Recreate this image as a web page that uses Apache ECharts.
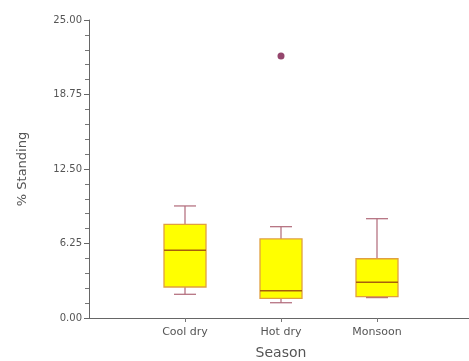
<!DOCTYPE html>
<html><head><meta charset="utf-8">
<script src="https://cdn.jsdelivr.net/npm/echarts@6/dist/echarts.min.js"></script>
<style>html,body{margin:0;padding:0;background:#fff}#c{width:469px;height:361px}</style>
</head><body><div id="c"></div>
<script>
var categories = ['Cool dry', 'Hot dry', 'Monsoon'];
var whiskerLow = [1.99, 1.28, 1.71];
var q1 = [2.60, 1.65, 1.79];
var median = [5.68, 2.29, 2.99];
var q3 = [7.86, 6.63, 4.97];
var whiskerHigh = [9.40, 7.66, 8.33];
var outliers = [[2, 21.98]];
var yTicks = [0, 6.25, 12.5, 18.75, 25];

var boxData = categories.map(function (c, i) {
  return [i + 1, whiskerLow[i], q1[i], median[i], q3[i], whiskerHigh[i]];
});

var chart = echarts.init(document.getElementById('c'));
chart.setOption({
  animation: false,
  grid: { left: 89, top: 20, width: 384, height: 298, outerBoundsMode: 'none', containLabel: false },
  xAxis: {
    type: 'value', min: 0, max: 4, interval: 1,
    name: 'Season', nameLocation: 'middle', nameGap: 28,
    nameTextStyle: { fontFamily: 'DejaVu Sans', fontSize: 14, color: '#555' },
    axisLine: { lineStyle: { color: '#666', width: 1 } },
    axisTick: { show: true, length: 4, customValues: [1, 2, 3], lineStyle: { color: '#777' } },
    axisLabel: {
      fontFamily: 'DejaVu Sans', fontSize: 11, color: '#555', margin: 9,
      customValues: [1, 2, 3],
      formatter: function (v) { return categories[v - 1] || ''; }
    },
    splitLine: { show: false }
  },
  yAxis: {
    type: 'value', min: yTicks[0], max: yTicks[yTicks.length - 1], interval: 6.25,
    name: '% Standing', nameLocation: 'middle', nameGap: 60,
    nameTextStyle: { fontFamily: 'DejaVu Sans', fontSize: 13, color: '#555' },
    axisLine: { show: true, lineStyle: { color: '#666', width: 1 } },
    axisTick: { show: true, length: 5, lineStyle: { color: '#666' } },
    minorTick: { show: true, splitNumber: 5, length: 4, lineStyle: { color: '#777' } },
    axisLabel: {
      fontFamily: 'DejaVu Sans', fontSize: 10, color: '#555', margin: 7,
      formatter: function (v) { return v.toFixed(2); }
    },
    splitLine: { show: false }
  },
  series: [
    {
      type: 'custom',
      data: boxData,
      renderItem: function (params, api) {
        var x = api.value(0);
        var lo = api.coord([x, api.value(1)]);
        var a = api.coord([x, api.value(2)]);
        var m = api.coord([x, api.value(3)]);
        var b = api.coord([x, api.value(4)]);
        var hi = api.coord([x, api.value(5)]);
        var half = 21, cap = 11;
        var wStyle = { stroke: '#b06878', lineWidth: 1.2 };
        return {
          type: 'group',
          children: [
            { type: 'line', shape: { x1: hi[0], y1: hi[1], x2: b[0], y2: b[1] }, style: wStyle },
            { type: 'line', shape: { x1: lo[0], y1: lo[1], x2: a[0], y2: a[1] }, style: wStyle },
            { type: 'line', shape: { x1: hi[0] - cap, y1: hi[1], x2: hi[0] + cap, y2: hi[1] }, style: wStyle },
            { type: 'line', shape: { x1: lo[0] - cap, y1: lo[1], x2: lo[0] + cap, y2: lo[1] }, style: wStyle },
            { type: 'rect', shape: { x: b[0] - half, y: b[1], width: half * 2, height: a[1] - b[1] },
              style: { fill: '#ffff00', stroke: '#e0a040', lineWidth: 1.3 } },
            { type: 'line', shape: { x1: m[0] - half, y1: m[1], x2: m[0] + half, y2: m[1] },
              style: { stroke: '#a8600c', lineWidth: 1.5 } }
          ]
        };
      },
      z: 3
    },
    {
      type: 'scatter',
      data: outliers,
      symbol: 'circle', symbolSize: 7,
      itemStyle: { color: '#7a1848' },
      z: 4
    }
  ]
});
</script>
</body></html>
